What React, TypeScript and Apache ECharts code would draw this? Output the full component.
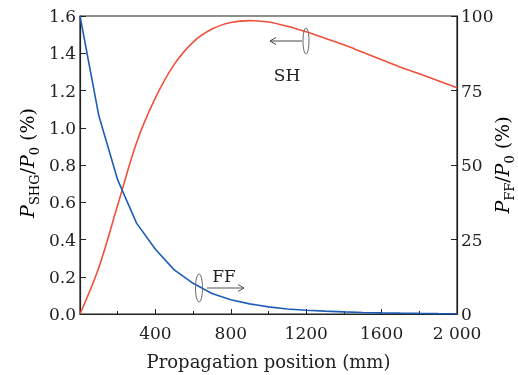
import React, { useEffect, useRef } from "react";
import * as echarts from "echarts";

const positions = [0, 100, 200, 300, 400, 500, 600, 700, 800, 900, 1000, 1100, 1200, 1300, 1400, 1500, 1600, 1700, 1800, 1900, 2000];
const shValues = [0, 0.25, 0.585, 0.92, 1.16, 1.34, 1.46, 1.53, 1.565, 1.575, 1.568, 1.545, 1.515, 1.48, 1.445, 1.405, 1.365, 1.325, 1.29, 1.252, 1.215];
const ffValues = [100, 66.5, 45, 30.5, 21.7, 14.8, 10.3, 6.9, 4.8, 3.4, 2.4, 1.7, 1.25, 0.95, 0.7, 0.5, 0.38, 0.28, 0.2, 0.14, 0.1];
const xTicks = { min: 0, max: 2000, interval: 400 };
const leftTicks = { min: 0, max: 1.6, interval: 0.2 };
const rightTicks = { min: 0, max: 100, interval: 25 };

const FONT = "DejaVu Serif";
const RED = "#f0503c";
const BLUE = "#1f5db5";
const AXIS = "#222";

export default function App() {
  const ref = useRef<HTMLDivElement>(null);
  useEffect(() => {
    if (!ref.current) return;
    const chart = echarts.init(ref.current, undefined, { renderer: "svg" });
    const labelStyle = { fontFamily: FONT, fontSize: 17, color: "#222" };
    const richName = {
      i: { fontFamily: FONT, fontSize: 19, fontStyle: "italic", color: "#222", lineHeight: 27, verticalAlign: "middle" },
      n: { fontFamily: FONT, fontSize: 19, color: "#222", lineHeight: 27, verticalAlign: "middle" },
      s: { fontFamily: FONT, fontSize: 13, color: "#222", lineHeight: 13, verticalAlign: "bottom" },
    };
    chart.setOption({
      animation: false,
      grid: { left: 80, right: 61, top: 16, bottom: 60, show: true, borderColor: AXIS, borderWidth: 1.2, containLabel: false },
      xAxis: {
        type: "value",
        min: xTicks.min,
        max: xTicks.max,
        interval: xTicks.interval,
        axisLine: { show: true, lineStyle: { color: AXIS, width: 1.2 } },
        axisTick: { show: true, inside: true, length: 5, lineStyle: { color: AXIS } },
        minorTick: { show: true, splitNumber: 2, length: 3, lineStyle: { color: AXIS } },
        splitLine: { show: false },
        axisLabel: {
          ...labelStyle,
          margin: 10,
          formatter: (v: number) => (v === 0 ? "" : v >= 2000 ? "2 000" : String(v)),
        },
        name: "Propagation position (mm)",
        nameLocation: "middle",
        nameGap: 38,
        nameTextStyle: { fontFamily: FONT, fontSize: 18, color: "#222" },
      },
      yAxis: [
        {
          type: "value",
          min: leftTicks.min,
          max: leftTicks.max,
          interval: leftTicks.interval,
          position: "left",
          axisLine: { show: true, lineStyle: { color: AXIS, width: 1.2 } },
          axisTick: { show: true, inside: true, length: 6, lineStyle: { color: AXIS } },
          splitLine: { show: false },
          axisLabel: { ...labelStyle, margin: 4, formatter: (v: number) => v.toFixed(1) },
        },
        {
          type: "value",
          min: rightTicks.min,
          max: rightTicks.max,
          interval: rightTicks.interval,
          position: "right",
          axisLine: { show: true, lineStyle: { color: AXIS, width: 1.2 } },
          axisTick: { show: true, inside: true, length: 6, lineStyle: { color: AXIS } },
          splitLine: { show: false },
          axisLabel: { ...labelStyle, margin: 4 },
        },
      ],
      series: [
        {
          name: "SH",
          type: "line",
          yAxisIndex: 0,
          data: positions.map((p, i) => [p, shValues[i]]),
          smooth: 0.35,
          showSymbol: false,
          lineStyle: { color: RED, width: 1.6 },
          z: 3,
        },
        {
          name: "FF",
          type: "line",
          yAxisIndex: 1,
          data: positions.map((p, i) => [p, ffValues[i]]),
          smooth: false,
          showSymbol: false,
          lineStyle: { color: BLUE, width: 1.6 },
          z: 4,
        },
      ],
      graphic: [
        {
          type: "text",
          x: 27,
          y: 163,
          rotation: Math.PI / 2,
          style: {
            text: "{i|P}{s|SHG}{n|/}{i|P}{s|0}{n| (%)}",
            rich: richName,
            align: "center",
            verticalAlign: "middle",
          },
        },
        {
          type: "text",
          x: 502,
          y: 165,
          rotation: Math.PI / 2,
          style: {
            text: "{i|P}{s|FF}{n|/}{i|P}{s|0}{n| (%)}",
            rich: richName,
            align: "center",
            verticalAlign: "middle",
          },
        },
        // SH annotation
        { type: "ellipse", shape: { cx: 306, cy: 41, rx: 3, ry: 13 }, style: { fill: "none", stroke: "#666", lineWidth: 1 }, z: 10 },
        { type: "line", shape: { x1: 270, y1: 41, x2: 302, y2: 41 }, style: { stroke: "#444", lineWidth: 1 }, z: 10 },
        { type: "polyline", shape: { points: [[276, 37.5], [270, 41], [276, 44.5]] }, style: { fill: "none", stroke: "#444", lineWidth: 1 }, z: 10 },
        { type: "text", x: 287, y: 75, style: { text: "SH", fontFamily: FONT, fontSize: 17, fill: "#222", align: "center", verticalAlign: "middle" }, z: 10 },
        // FF annotation
        { type: "ellipse", shape: { cx: 199, cy: 288, rx: 3.5, ry: 14 }, style: { fill: "none", stroke: "#666", lineWidth: 1 }, z: 10 },
        { type: "line", shape: { x1: 207, y1: 288, x2: 244, y2: 288 }, style: { stroke: "#555", lineWidth: 1 }, z: 10 },
        { type: "polyline", shape: { points: [[238, 284.5], [244, 288], [238, 291.5]] }, style: { fill: "none", stroke: "#555", lineWidth: 1 }, z: 10 },
        { type: "text", x: 224, y: 276, style: { text: "FF", fontFamily: FONT, fontSize: 17, fill: "#222", align: "center", verticalAlign: "middle" }, z: 10 },
      ],
    });
    return () => chart.dispose();
  }, []);
  return <div ref={ref} style={{ position: "fixed", left: 0, top: 0, width: 518, height: 375 }} />;
}
